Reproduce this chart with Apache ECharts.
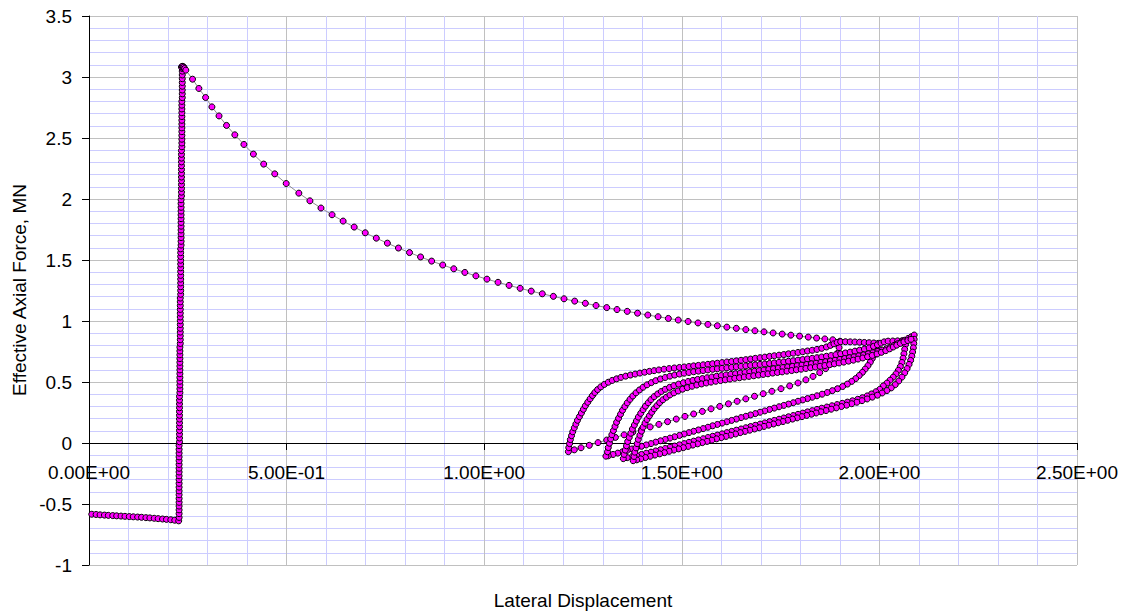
<!DOCTYPE html>
<html>
<head>
<meta charset="utf-8">
<script src="https://cdn.jsdelivr.net/npm/echarts@6/dist/echarts.min.js"></script>
<style>
html,body{margin:0;padding:0;background:#fff;}
#chart{width:1130px;height:616px;}
</style>
</head>
<body>
<div id="chart"></div>
<script>
// ---- tick labels ----
const xTickValues = [0, 0.5, 1, 1.5, 2, 2.5];
const xTickLabels = ['0.00E+00', '5.00E-01', '1.00E+00', '1.50E+00', '2.00E+00', '2.50E+00'];
const yTickValues = [-1, -0.5, 0, 0.5, 1, 1.5, 2, 2.5, 3, 3.5];
const yTickLabels = ['-1', '-0.5', '0', '0.5', '1', '1.5', '2', '2.5', '3', '3.5'];
const xTitle = 'Lateral Displacement';
const yTitle = 'Effective Axial Force, MN';

// ---- series values (lateral displacement, effective axial force) ----
const initialLoad = [[0.007,-0.584],[0.018,-0.586],[0.028,-0.589],[0.039,-0.591],[0.049,-0.593],[0.060,-0.595],[0.070,-0.597],[0.081,-0.599],[0.091,-0.601],[0.102,-0.603],[0.112,-0.605],[0.123,-0.607],[0.133,-0.609],[0.144,-0.612],[0.154,-0.614],[0.165,-0.617],[0.175,-0.620],[0.186,-0.623],[0.196,-0.626],[0.207,-0.629],[0.217,-0.633],[0.227,-0.638]];

const rise = [[0.228,-0.610],[0.228,-0.579],[0.228,-0.548],[0.228,-0.517],[0.228,-0.486],[0.228,-0.455],[0.228,-0.424],[0.228,-0.393],[0.228,-0.362],[0.228,-0.331],[0.228,-0.300],[0.228,-0.269],[0.228,-0.238],[0.228,-0.207],[0.228,-0.176],[0.228,-0.145],[0.228,-0.114],[0.228,-0.083],[0.228,-0.052],[0.228,-0.021],
[0.229,0.010],[0.229,0.041],[0.229,0.072],[0.229,0.103],[0.229,0.134],[0.229,0.165],[0.229,0.196],[0.229,0.227],[0.229,0.258],[0.229,0.289],[0.229,0.320],[0.229,0.351],[0.229,0.382],
[0.230,0.413],[0.230,0.444],[0.230,0.475],[0.230,0.506],[0.230,0.537],[0.230,0.568],[0.230,0.599],[0.230,0.630],[0.230,0.661],[0.230,0.692],[0.230,0.723],[0.230,0.754],[0.230,0.785],
[0.231,0.816],[0.231,0.847],[0.231,0.878],[0.231,0.909],[0.231,0.940],[0.231,0.971],[0.231,1.002],[0.231,1.033],[0.231,1.064],[0.231,1.095],[0.231,1.126],[0.231,1.157],[0.231,1.188],
[0.232,1.219],[0.232,1.250],[0.232,1.281],[0.232,1.312],[0.232,1.343],[0.232,1.374],[0.232,1.405],[0.232,1.436],[0.232,1.467],[0.232,1.498],[0.232,1.529],[0.232,1.560],[0.232,1.591],
[0.233,1.622],[0.233,1.653],[0.233,1.684],[0.233,1.715],[0.233,1.746],[0.233,1.777],[0.233,1.808],[0.233,1.839],[0.233,1.870],[0.233,1.901],[0.233,1.932],[0.233,1.963],[0.233,1.994],
[0.234,2.025],[0.234,2.056],[0.234,2.087],[0.234,2.118],[0.234,2.149],[0.234,2.180],[0.234,2.211],[0.234,2.242],[0.234,2.273],[0.234,2.304],[0.234,2.335],[0.234,2.366],[0.234,2.397],
[0.235,2.428],[0.235,2.459],[0.235,2.490],[0.235,2.521],[0.235,2.552],[0.235,2.583],[0.235,2.614],[0.235,2.645],[0.235,2.676],[0.235,2.707],[0.235,2.738],[0.235,2.769],[0.235,2.800],
[0.236,2.831],[0.236,2.862],[0.236,2.893],[0.236,2.924],[0.236,2.955],[0.236,2.986],[0.236,3.017],[0.236,3.048],[0.236,3.070]];

const peak = [[0.234,3.082],[0.236,3.087],[0.238,3.086],[0.240,3.080],[0.242,3.070]];

const postBuckling = [[0.245,3.056],[0.262,2.982],[0.278,2.906],[0.295,2.832],[0.311,2.755],[0.329,2.681],[0.348,2.603],[0.369,2.526],[0.392,2.447],[0.416,2.368],[0.442,2.286],[0.470,2.206],[0.499,2.127],[0.531,2.048],[0.559,1.985],[0.587,1.926],[0.615,1.871],[0.643,1.819],[0.671,1.770],[0.699,1.723],[0.727,1.679],[0.755,1.638],[0.783,1.598],[0.811,1.561],[0.839,1.525],[0.867,1.491],[0.895,1.459],[0.923,1.428],[0.951,1.398],[0.979,1.370],[1.007,1.343],[1.035,1.317],[1.063,1.292],[1.091,1.268],[1.119,1.245],[1.147,1.223],[1.175,1.202],[1.202,1.182],[1.229,1.163],[1.256,1.145],[1.283,1.127],[1.310,1.110],[1.336,1.094],[1.362,1.079],[1.388,1.064],[1.414,1.049],[1.440,1.035],[1.466,1.021],[1.491,1.008],[1.516,0.996],[1.541,0.984],[1.566,0.972],[1.590,0.961],[1.614,0.950],[1.638,0.940],[1.662,0.930],[1.685,0.920],[1.708,0.911],[1.731,0.902],[1.754,0.893],[1.776,0.884],[1.798,0.876],[1.820,0.868],[1.841,0.860],[1.862,0.853],[1.882,0.846],[1.900,0.834]];

const unload1 = [[1.898,0.782],[1.894,0.735],[1.887,0.690],[1.877,0.648],[1.864,0.610],[1.849,0.577],[1.832,0.546],[1.814,0.518],[1.794,0.492],[1.773,0.468],[1.751,0.445],[1.728,0.424],[1.706,0.404],[1.684,0.383],[1.662,0.362],[1.640,0.342],[1.618,0.321],[1.596,0.300],[1.574,0.280],[1.552,0.259],[1.530,0.238],[1.508,0.218],[1.486,0.196],[1.464,0.175],[1.442,0.153],[1.420,0.132],[1.398,0.110],[1.376,0.089],[1.354,0.067],[1.332,0.046],[1.310,0.024],[1.288,0.003],[1.266,-0.019],[1.245,-0.039],[1.228,-0.056],[1.213,-0.071]];

const reload1 = [[1.214,-0.038],[1.216,-0.005],[1.218,0.028],[1.221,0.060],[1.224,0.092],[1.228,0.124],[1.232,0.155],[1.236,0.186],[1.241,0.216],[1.246,0.246],[1.251,0.276],[1.256,0.305],[1.262,0.334],[1.268,0.362],[1.274,0.389],[1.280,0.414],[1.287,0.438],[1.295,0.460],[1.304,0.480],[1.314,0.498],[1.324,0.513],[1.335,0.526],[1.346,0.538],[1.358,0.548],[1.370,0.557],[1.382,0.565],[1.394,0.573],[1.406,0.580],[1.418,0.587],[1.430,0.593],[1.442,0.599],[1.455,0.605],[1.468,0.610],[1.481,0.615],[1.494,0.619],[1.506,0.623],[1.518,0.627],[1.530,0.632],[1.542,0.636],[1.554,0.641],[1.566,0.645],[1.578,0.650],[1.590,0.654],[1.602,0.659],[1.614,0.664],[1.626,0.668],[1.638,0.673],[1.650,0.678],[1.662,0.683],[1.674,0.688],[1.686,0.694],[1.698,0.699],[1.710,0.704],[1.722,0.710],[1.734,0.715],[1.746,0.720],[1.758,0.725],[1.770,0.731],[1.782,0.736],[1.794,0.742],[1.806,0.748],[1.818,0.754],[1.830,0.760],[1.842,0.767],[1.854,0.776],[1.866,0.787],[1.876,0.800],[1.885,0.813],[1.893,0.824],[1.902,0.830],[1.914,0.830],[1.926,0.829],[1.938,0.828],[1.950,0.826],[1.962,0.824],[1.974,0.822],[1.986,0.820],[1.997,0.817]];

const unload2 = [[1.994,0.785],[1.991,0.754],[1.987,0.723],[1.982,0.693],[1.977,0.663],[1.971,0.634],[1.964,0.606],[1.957,0.579],[1.949,0.553],[1.940,0.528],[1.930,0.505],[1.919,0.483],[1.907,0.463],[1.894,0.445],[1.881,0.429],[1.868,0.414],[1.855,0.400],[1.842,0.387],[1.830,0.375],[1.818,0.364],[1.806,0.353],[1.794,0.342],[1.782,0.330],[1.770,0.319],[1.758,0.308],[1.746,0.297],[1.734,0.286],[1.722,0.275],[1.710,0.263],[1.698,0.252],[1.686,0.241],[1.674,0.230],[1.662,0.219],[1.650,0.208],[1.638,0.196],[1.626,0.185],[1.614,0.174],[1.602,0.163],[1.590,0.152],[1.578,0.141],[1.566,0.129],[1.554,0.118],[1.542,0.107],[1.530,0.096],[1.518,0.085],[1.506,0.074],[1.494,0.062],[1.482,0.051],[1.470,0.040],[1.458,0.029],[1.446,0.018],[1.434,0.007],[1.422,-0.005],[1.410,-0.016],[1.398,-0.027],[1.386,-0.038],[1.374,-0.049],[1.362,-0.060],[1.350,-0.072],[1.338,-0.083],[1.326,-0.094],[1.314,-0.105],[1.308,-0.108]];

const reload2 = [[1.312,-0.072],[1.314,-0.037],[1.317,-0.002],[1.320,0.033],[1.323,0.068],[1.327,0.102],[1.331,0.136],[1.335,0.170],[1.340,0.203],[1.345,0.236],[1.350,0.268],[1.356,0.299],[1.362,0.329],[1.369,0.358],[1.376,0.385],[1.384,0.411],[1.393,0.435],[1.402,0.457],[1.412,0.477],[1.423,0.495],[1.434,0.511],[1.446,0.525],[1.458,0.537],[1.470,0.548],[1.482,0.557],[1.494,0.565],[1.506,0.572],[1.518,0.578],[1.530,0.584],[1.542,0.589],[1.554,0.594],[1.566,0.599],[1.578,0.604],[1.590,0.608],[1.602,0.612],[1.614,0.616],[1.626,0.620],[1.638,0.624],[1.650,0.628],[1.662,0.632],[1.674,0.636],[1.686,0.640],[1.698,0.644],[1.710,0.648],[1.722,0.652],[1.734,0.656],[1.746,0.661],[1.758,0.665],[1.770,0.670],[1.782,0.674],[1.794,0.679],[1.806,0.684],[1.818,0.689],[1.830,0.694],[1.842,0.699],[1.854,0.705],[1.866,0.711],[1.878,0.717],[1.890,0.724],[1.902,0.731],[1.914,0.738],[1.926,0.745],[1.938,0.753],[1.950,0.761],[1.962,0.770],[1.974,0.780],[1.985,0.792],[1.995,0.805],[2.004,0.818],[2.012,0.829],[2.022,0.835],[2.034,0.836],[2.046,0.837],[2.058,0.839],[2.068,0.842]];

const unload3 = [[2.066,0.805],[2.064,0.768],[2.062,0.731],[2.060,0.695],[2.057,0.660],[2.053,0.627],[2.048,0.596],[2.042,0.567],[2.035,0.540],[2.027,0.515],[2.019,0.491],[2.010,0.468],[2.001,0.440],[1.991,0.420],[1.980,0.402],[1.969,0.386],[1.957,0.371],[1.945,0.358],[1.932,0.346],[1.919,0.335],[1.906,0.325],[1.893,0.315],[1.880,0.305],[1.867,0.295],[1.854,0.285],[1.842,0.275],[1.830,0.265],[1.818,0.255],[1.806,0.245],[1.794,0.235],[1.782,0.225],[1.770,0.215],[1.758,0.205],[1.746,0.195],[1.734,0.185],[1.722,0.175],[1.710,0.165],[1.698,0.155],[1.686,0.145],[1.674,0.135],[1.662,0.125],[1.650,0.115],[1.638,0.105],[1.626,0.095],[1.614,0.085],[1.602,0.075],[1.590,0.065],[1.578,0.055],[1.566,0.045],[1.554,0.035],[1.542,0.025],[1.530,0.015],[1.518,0.005],[1.506,-0.005],[1.494,-0.015],[1.482,-0.025],[1.470,-0.035],[1.458,-0.045],[1.446,-0.055],[1.434,-0.065],[1.422,-0.075],[1.410,-0.084],[1.398,-0.094],[1.386,-0.103],[1.374,-0.112],[1.362,-0.120],[1.352,-0.128]];

const reload3 = [[1.354,-0.093],[1.357,-0.058],[1.360,-0.023],[1.363,0.012],[1.367,0.046],[1.371,0.080],[1.375,0.114],[1.380,0.147],[1.385,0.180],[1.390,0.212],[1.396,0.243],[1.402,0.273],[1.408,0.302],[1.415,0.330],[1.422,0.356],[1.430,0.380],[1.439,0.402],[1.448,0.422],[1.458,0.440],[1.469,0.456],[1.480,0.470],[1.492,0.483],[1.504,0.494],[1.516,0.504],[1.528,0.513],[1.540,0.521],[1.552,0.528],[1.564,0.535],[1.576,0.541],[1.588,0.547],[1.600,0.553],[1.612,0.558],[1.624,0.563],[1.636,0.568],[1.648,0.573],[1.660,0.578],[1.672,0.583],[1.684,0.588],[1.696,0.593],[1.708,0.598],[1.720,0.603],[1.732,0.608],[1.744,0.613],[1.756,0.618],[1.768,0.623],[1.780,0.628],[1.792,0.633],[1.804,0.638],[1.816,0.643],[1.828,0.649],[1.840,0.654],[1.852,0.660],[1.864,0.666],[1.876,0.672],[1.888,0.678],[1.900,0.685],[1.912,0.692],[1.924,0.699],[1.936,0.706],[1.948,0.714],[1.960,0.722],[1.972,0.731],[1.984,0.740],[1.996,0.750],[2.007,0.761],[2.018,0.773],[2.028,0.786],[2.037,0.800],[2.046,0.814],[2.055,0.828],[2.064,0.842],[2.073,0.857],[2.081,0.871],[2.088,0.885]];

const unload4 = [[2.088,0.850],[2.087,0.815],[2.086,0.780],[2.084,0.745],[2.082,0.711],[2.079,0.677],[2.075,0.644],[2.070,0.610],[2.064,0.575],[2.057,0.540],[2.049,0.508],[2.040,0.478],[2.030,0.452],[2.019,0.430],[2.007,0.410],[1.995,0.392],[1.982,0.376],[1.969,0.361],[1.956,0.347],[1.943,0.334],[1.930,0.322],[1.917,0.310],[1.904,0.299],[1.891,0.288],[1.878,0.277],[1.865,0.266],[1.852,0.256],[1.840,0.246],[1.828,0.236],[1.816,0.226],[1.804,0.216],[1.792,0.206],[1.780,0.196],[1.768,0.186],[1.756,0.176],[1.744,0.166],[1.732,0.156],[1.720,0.146],[1.708,0.136],[1.696,0.125],[1.684,0.115],[1.672,0.105],[1.660,0.095],[1.648,0.085],[1.636,0.074],[1.624,0.064],[1.612,0.054],[1.600,0.044],[1.588,0.034],[1.576,0.023],[1.564,0.013],[1.552,0.003],[1.540,-0.007],[1.528,-0.017],[1.516,-0.028],[1.504,-0.038],[1.492,-0.048],[1.480,-0.058],[1.468,-0.068],[1.456,-0.079],[1.444,-0.089],[1.432,-0.099],[1.420,-0.109],[1.408,-0.119],[1.396,-0.130],[1.386,-0.138],[1.377,-0.145]];

const reload4 = [[1.379,-0.110],[1.381,-0.075],[1.384,-0.040],[1.387,-0.005],[1.390,0.030],[1.394,0.064],[1.398,0.097],[1.402,0.130],[1.407,0.162],[1.412,0.193],[1.418,0.223],[1.424,0.252],[1.430,0.280],[1.437,0.306],[1.444,0.331],[1.452,0.354],[1.461,0.375],[1.470,0.394],[1.480,0.411],[1.491,0.427],[1.502,0.441],[1.514,0.454],[1.526,0.465],[1.538,0.475],[1.550,0.484],[1.562,0.492],[1.574,0.499],[1.586,0.506],[1.598,0.512],[1.610,0.518],[1.622,0.524],[1.634,0.530],[1.646,0.535],[1.658,0.541],[1.670,0.546],[1.682,0.551],[1.694,0.557],[1.706,0.562],[1.718,0.567],[1.730,0.573],[1.742,0.578],[1.754,0.583],[1.766,0.589],[1.778,0.594],[1.790,0.600],[1.802,0.605],[1.814,0.611],[1.826,0.617],[1.838,0.623],[1.850,0.629],[1.862,0.635],[1.874,0.642],[1.886,0.649],[1.898,0.656],[1.910,0.663],[1.922,0.671],[1.934,0.679],[1.946,0.688],[1.958,0.697],[1.970,0.707],[1.982,0.718],[1.994,0.730],[2.005,0.743],[2.016,0.757],[2.026,0.772],[2.035,0.787],[2.044,0.802],[2.053,0.816],[2.062,0.829],[2.072,0.840],[2.080,0.850]];

// ---- build the path in recorded order ----
const pathData = [].concat(initialLoad, rise, peak, postBuckling, unload1, reload1,
  unload2, reload2, unload3, reload3, unload4, reload4);

const FONT = "'Liberation Sans', Arial, sans-serif";
const Y_MIN = -1, Y_MAX = 3.5;
const GRID_TOP = 16, GRID_BOTTOM = 51, H = 616;
// place the x axis where y = 0 (as in the reference, the axis crosses at zero)
const plotH = H - GRID_TOP - GRID_BOTTOM;
const xAxisOffset = -Math.round((0 - Y_MIN) / (Y_MAX - Y_MIN) * plotH);

function lookup(values, labels, v) {
  for (let i = 0; i < values.length; i++) {
    if (Math.abs(values[i] - v) < 1e-9) return labels[i];
  }
  return '';
}

const chart = echarts.init(document.getElementById('chart'), null, {renderer: 'svg', width: 1130, height: 616});
chart.setOption({
  animation: false,
  backgroundColor: '#ffffff',
  textStyle: {fontFamily: FONT},
  grid: {left: 89, right: 53, top: GRID_TOP, bottom: GRID_BOTTOM, containLabel: false, outerBoundsMode: 'none'},
  xAxis: {
    type: 'value', min: 0, max: 2.5, interval: 0.5,
    position: 'bottom', offset: xAxisOffset,
    axisLine: {show: true, onZero: false, lineStyle: {color: '#000000', width: 1}},
    axisTick: {show: true, inside: false, length: 7, lineStyle: {color: '#000000', width: 1}},
    axisLabel: {
      show: true, margin: 20, fontSize: 19, color: '#000000', fontFamily: FONT,
      showMinLabel: true, showMaxLabel: true,
      formatter: v => lookup(xTickValues, xTickLabels, v)
    },
    splitLine: {show: true, lineStyle: {color: '#c0c0c0', width: 1}},
    minorTick: {show: false, splitNumber: 5},
    minorSplitLine: {show: true, lineStyle: {color: '#ccccff', width: 1}}
  },
  yAxis: {
    type: 'value', min: Y_MIN, max: Y_MAX, interval: 0.5,
    axisLine: {show: true, onZero: false, lineStyle: {color: '#000000', width: 1}},
    axisTick: {show: true, inside: false, length: 7, lineStyle: {color: '#000000', width: 1}},
    axisLabel: {
      show: true, margin: 17, fontSize: 19, color: '#000000', fontFamily: FONT,
      showMinLabel: true, showMaxLabel: true,
      formatter: v => lookup(yTickValues, yTickLabels, v)
    },
    splitLine: {show: true, lineStyle: {color: '#c0c0c0', width: 1}},
    minorTick: {show: false, splitNumber: 5},
    minorSplitLine: {show: true, lineStyle: {color: '#ccccff', width: 1}}
  },
  graphic: [
    {type: 'text', x: 583, y: 600, silent: true,
      style: {text: xTitle, fontSize: 19, fontFamily: FONT, fill: '#000000', textAlign: 'center', textVerticalAlign: 'middle'}},
    {type: 'text', x: 19, y: 290, rotation: Math.PI / 2, silent: true,
      style: {text: yTitle, fontSize: 19, fontFamily: FONT, fill: '#000000', textAlign: 'center', textVerticalAlign: 'middle'}}
  ],
  series: [{
    type: 'line',
    data: pathData,
    showSymbol: true,
    symbol: 'circle',
    symbolSize: 6,
    clip: false,
    lineStyle: {color: '#8c8c8c', width: 1},
    itemStyle: {color: '#ff00ff', borderColor: '#000000', borderWidth: 1},
    emphasis: {disabled: true}
  }]
});
</script>
</body>
</html>
